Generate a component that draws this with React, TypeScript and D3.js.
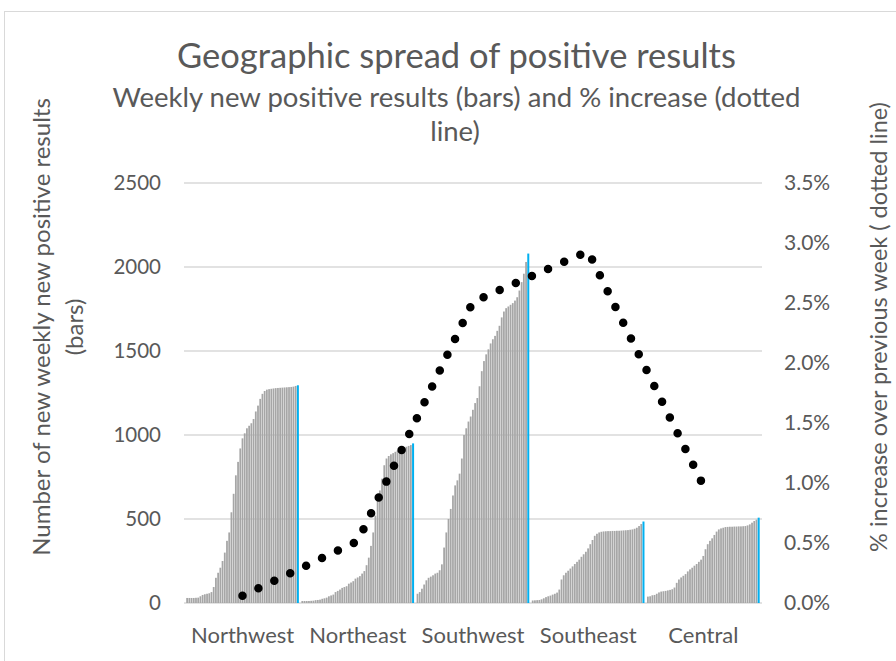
import React from "react";
import * as d3 from "d3";

const regions = ["Northwest", "Northeast", "Southwest", "Southeast", "Central"];

const northwest = [30, 30, 30, 30, 31, 32, 40, 48, 52, 55, 58, 65, 95, 150, 180, 210, 250, 300, 370, 420, 540, 650, 760, 840, 920, 980, 1010, 1040, 1055, 1070, 1095, 1140, 1175, 1215, 1245, 1262, 1270, 1273, 1275, 1277, 1279, 1280, 1281, 1282, 1283, 1284, 1285, 1286, 1288, 1292];
const northeast = [12, 12, 12, 12, 13, 14, 17, 18, 20, 25, 28, 32, 40, 45, 50, 65, 72, 80, 90, 95, 100, 115, 122, 130, 145, 152, 160, 175, 190, 225, 270, 340, 420, 520, 610, 670, 740, 820, 860, 875, 885, 892, 900, 908, 915, 920, 925, 930, 935, 940];
const southwest = [55, 65, 85, 110, 135, 150, 157, 165, 175, 180, 195, 230, 330, 420, 500, 560, 640, 700, 730, 770, 860, 1000, 1040, 1080, 1110, 1150, 1190, 1220, 1290, 1380, 1440, 1480, 1510, 1545, 1570, 1590, 1620, 1650, 1700, 1735, 1755, 1765, 1775, 1785, 1800, 1820, 1860, 1910, 1960, 2030];
const southeast = [15, 16, 17, 18, 22, 28, 35, 40, 44, 50, 55, 62, 80, 140, 165, 180, 192, 205, 218, 232, 245, 258, 275, 290, 305, 325, 350, 375, 400, 412, 420, 424, 426, 427, 428, 428, 429, 429, 430, 430, 431, 432, 433, 434, 436, 438, 442, 448, 458, 470];
const central = [38, 40, 46, 48, 55, 63, 68, 70, 72, 75, 78, 82, 92, 120, 140, 152, 162, 172, 188, 200, 210, 222, 232, 245, 258, 280, 320, 350, 370, 385, 405, 425, 438, 444, 448, 452, 453, 454, 454, 455, 455, 456, 456, 457, 458, 462, 468, 478, 488, 496];
const latestWeek = [1296, 950, 2080, 485, 508];
const pctIncrease = [0.0006, 0.00515, 0.0251, 0.0293, 0.0098];

const leftTicks = [0, 500, 1000, 1500, 2000, 2500];
const rightTicks = [0, 0.005, 0.01, 0.015, 0.02, 0.025, 0.03, 0.035];

const weekly = [northwest, northeast, southwest, southeast, central];
const SLOTS_PER_GROUP = 52;

const W = 896;
const H = 661;
const L = 186, R = 762, T = 183, B = 603;
const TEXT = "#595959";
const FONT = "Lato, 'Noto Sans', sans-serif";

export default function App() {
  const x = d3
    .scaleBand<number>()
    .domain(d3.range(regions.length * SLOTS_PER_GROUP))
    .range([L, R])
    .paddingInner(0.2)
    .paddingOuter(0.1);
  const xg = d3.scaleBand<string>().domain(regions).range([L, R]);
  const y = d3.scaleLinear().domain([0, 2500]).range([B, T]);
  const y2 = d3.scaleLinear().domain([0, 0.035]).range([B, T]);
  const pctFmt = d3.format(".1%");

  const bars: { slot: number; v: number; blue: boolean }[] = [];
  weekly.forEach((arr, g) => {
    arr.forEach((v, i) => bars.push({ slot: g * SLOTS_PER_GROUP + i, v, blue: false }));
    bars.push({ slot: g * SLOTS_PER_GROUP + arr.length, v: latestWeek[g], blue: true });
  });

  const linePts = pctIncrease.map((p, g) => {
    const slot = g * SLOTS_PER_GROUP + 25;
    return [x(slot)! + x.bandwidth() / 2, y2(p)] as [number, number];
  });
  const lineGen = d3.line();

  return (
    <svg width={W} height={H} style={{ position: "absolute", left: 0, top: 0, background: "#fff" }} fontFamily={FONT}>
      <rect x={4.5} y={11.5} width={900} height={700} fill="#fff" stroke="#d9d9d9" strokeWidth={1} />
      <text x={456.5} y={68} textAnchor="middle" fontSize={34.5} fill={TEXT}>
        Geographic spread of positive results
      </text>
      <text x={456.5} y={107} textAnchor="middle" fontSize={27.5} fill={TEXT}>
        Weekly new positive results (bars) and % increase (dotted
      </text>
      <text x={455} y={141} textAnchor="middle" fontSize={27.5} fill={TEXT}>
        line)
      </text>

      {leftTicks.map((t) => (
        <g key={t}>
          <line x1={L - 2} x2={R} y1={y(t)} y2={y(t)} stroke="#d9d9d9" strokeWidth={1.5} />
          <text x={161} y={y(t)} dy="0.35em" textAnchor="end" fontSize={20.5} fill={TEXT}>
            {t}
          </text>
        </g>
      ))}
      {rightTicks.map((t) => (
        <text key={t} x={784} y={y2(t)} dy="0.35em" textAnchor="start" fontSize={21} fill={TEXT}>
          {pctFmt(t)}
        </text>
      ))}

      {bars.map((b) => (
        <rect
          key={b.slot}
          x={b.blue ? x(b.slot)! + x.bandwidth() / 2 - 1 : x(b.slot)!}
          y={y(b.v)}
          width={b.blue ? 2 : x.bandwidth()}
          height={B - y(b.v)}
          fill={b.blue ? "#00b0f0" : "#a6a6a6"}
        />
      ))}

      <path
        d={lineGen(linePts) || ""}
        fill="none"
        stroke="#000"
        strokeWidth={8.5}
        strokeLinecap="round"
        strokeLinejoin="round"
        strokeDasharray="0 17.6"
      />

      {regions.map((r) => (
        <text key={r} x={xg(r)! + xg.bandwidth() / 2 - 1} y={643} textAnchor="middle" fontSize={22} fill={TEXT}>
          {r}
        </text>
      ))}

      <text transform="translate(50,327) rotate(-90)" textAnchor="middle" fontSize={24} fill={TEXT}>
        Number of new weekly new positive results
      </text>
      <text transform="translate(83,327) rotate(-90)" textAnchor="middle" fontSize={24} fill={TEXT}>
        (bars)
      </text>
      <text transform="translate(887,327) rotate(-90)" textAnchor="middle" fontSize={23.5} fill={TEXT}>
        % increase over previous week ( dotted line)
      </text>
    </svg>
  );
}
